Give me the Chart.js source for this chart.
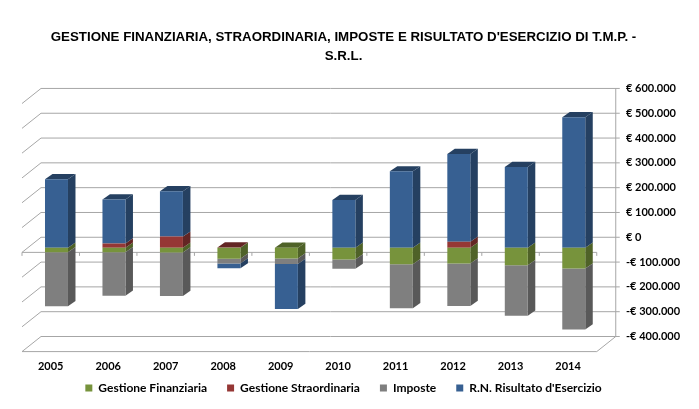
<!DOCTYPE html>
<html>
<head>
<meta charset="utf-8">
<style>
    body { margin: 0; background: #fff; }
    canvas { display: block; }
</style>
<script src="https://cdn.jsdelivr.net/npm/chart.js@4/dist/chart.umd.js"></script>
</head>
<body>
<canvas id="chart" width="699" height="409"></canvas>
<script>
const years = ['2005', '2006', '2007', '2008', '2009', '2010', '2011', '2012', '2013', '2014'];
const gestioneFinanziaria = [-18000, -18000, -19000, -44000, -43000, -47000, -66000, -63000, -70000, -84000];
const gestioneStraordinaria = [0, 17000, 45000, 1000, 0, 0, 0, 24000, 0, 0];
const imposte = [-218000, -175000, -175000, -19000, -22000, -38000, -178000, -172000, -204000, -245000];
const risultato = [276000, 178000, 183000, -20000, -182000, 193000, 308000, 354000, 326000, 526000];

const frontColors = ['#77933c', '#953735', '#7f7f7f', '#376092'];
const sideColors = ['#4f6228', '#632523', '#595959', '#254061'];

const gridColor = '#a6a6a6';
const barDepth = { x: 7.5, y: -5.2 };
const backWall = { x: 13.25, y: -10.5 };
const frontEdge = { x: -5.75, y: 4.6 };

function line(ctx, x1, y1, x2, y2) {
    ctx.beginPath();
    ctx.moveTo(x1, y1);
    ctx.lineTo(x2, y2);
    ctx.stroke();
}

function face(ctx, color, x1, y1, x2, y2) {
    // parallelogram going back from the edge (x1,y1)-(x2,y2)
    ctx.fillStyle = color;
    ctx.beginPath();
    ctx.moveTo(x1, y1);
    ctx.lineTo(x2, y2);
    ctx.lineTo(x2 + barDepth.x, y2 + barDepth.y);
    ctx.lineTo(x1 + barDepth.x, y1 + barDepth.y);
    ctx.closePath();
    ctx.fill();
}

const walls = {
    id: 'walls',
    afterLayout(chart) {
        // tick labels get clipped to the scale box, let it reach the canvas edge
        chart.scales.y.right = chart.width;
        chart.scales.x.bottom = chart.height;
    },
    beforeDatasetsDraw(chart) {
        const ctx = chart.ctx;
        const area = chart.chartArea;
        const yScale = chart.scales.y;
        const backLeft = area.left + backWall.x;
        const backRight = area.right + backWall.x;
        const frontLeft = area.left + frontEdge.x;
        const frontRight = area.right + frontEdge.x;
        const depthX = backWall.x - frontEdge.x;
        const depthY = frontEdge.y - backWall.y;

        ctx.save();
        ctx.strokeStyle = gridColor;
        ctx.lineWidth = 1;

        yScale.ticks.forEach(tick => {
            const y = yScale.getPixelForValue(tick.value) + backWall.y;
            line(ctx, backLeft, y, backRight + 4, y);
            line(ctx, backLeft, y, backLeft - depthX, y + depthY);
        });

        const top = yScale.getPixelForValue(yScale.max) + backWall.y;
        const bottom = yScale.getPixelForValue(yScale.min) + backWall.y;
        line(ctx, backRight, top, backRight, bottom);
        line(ctx, backRight, bottom, frontRight, bottom + depthY);
        line(ctx, frontLeft, bottom + depthY, frontRight, bottom + depthY);

        // zero line on the front edge, with the category ticks
        const zero = yScale.getPixelForValue(0) + frontEdge.y;
        line(ctx, frontLeft, zero, frontRight, zero);
        const slot = (area.right - area.left) / years.length;
        for (let i = 0; i <= years.length; i++) {
            const x = frontLeft + i * slot;
            line(ctx, x, zero, x, zero + 3.5);
        }

        // sides and tops of the bars
        chart.data.datasets.forEach((dataset, d) => {
            chart.getDatasetMeta(d).data.forEach(bar => {
                const right = bar.x + bar.width / 2;
                face(ctx, sideColors[d], right, bar.y, right, bar.base);
            });
        });
        years.forEach((year, i) => {
            let top = null;
            chart.data.datasets.forEach((dataset, d) => {
                const bar = chart.getDatasetMeta(d).data[i];
                const upper = Math.min(bar.y, bar.base);
                if (top === null || upper <= top.y) {
                    top = { y: upper, color: sideColors[d], bar: bar };
                }
            });
            const half = top.bar.width / 2;
            face(ctx, top.color, top.bar.x - half, top.y, top.bar.x + half, top.y);
        });
        ctx.restore();
    }
};

function euro(value) {
    const text = Math.abs(value).toLocaleString('it-IT', { useGrouping: 'always' }).replace(/,/g, '.');
    return (value < 0 ? '-€ ' : '€ ') + text;
}

new Chart(document.getElementById('chart'), {
    type: 'bar',
    data: {
        labels: years,
        datasets: [
            { label: 'Gestione Finanziaria', data: gestioneFinanziaria, backgroundColor: frontColors[0] },
            { label: 'Gestione Straordinaria', data: gestioneStraordinaria, backgroundColor: frontColors[1] },
            { label: 'Imposte', data: imposte, backgroundColor: frontColors[2] },
            { label: "R.N. Risultato d'Esercizio", data: risultato, backgroundColor: frontColors[3] }
        ]
    },
    plugins: [walls],
    options: {
        responsive: false,
        animation: false,
        barPercentage: 0.4,
        categoryPercentage: 1,
        layout: { padding: { left: 27.75, right: 39.75, top: 0, bottom: 5 } },
        plugins: {
            title: {
                display: true,
                text: ["GESTIONE FINANZIARIA, STRAORDINARIA, IMPOSTE E RISULTATO D'ESERCIZIO DI T.M.P. -", 'S.R.L.'],
                color: '#000',
                font: { family: 'Liberation Sans', size: 13.3, weight: 'bold', lineHeight: 1.4 },
                padding: { top: 28, bottom: 33.7 }
            },
            legend: {
                position: 'bottom',
                labels: {
                    color: '#000',
                    boxWidth: 7,
                    boxHeight: 7,
                    padding: 20,
                    font: { family: 'Lato', size: 12, weight: 'bold' }
                }
            },
            tooltip: { enabled: false }
        },
        scales: {
            x: {
                stacked: true,
                afterFit(scale) { scale.height = 15; },
                grid: { display: false },
                border: { display: false },
                ticks: {
                    color: '#000',
                    padding: 5,
                    labelOffset: -5.75,
                    maxRotation: 0,
                    font: { family: 'Lato', size: 11, weight: 'bold' }
                }
            },
            y: {
                stacked: true,
                position: 'right',
                min: -400000,
                max: 600000,
                afterFit(scale) { scale.width = 56.75; },
                grid: { display: false, drawTicks: false },
                border: { display: false },
                ticks: {
                    stepSize: 100000,
                    color: '#000',
                    padding: 23.5,
                    labelOffset: -10.5,
                    callback: euro,
                    font: { family: 'Lato', size: 11, weight: 'bold' }
                }
            }
        }
    }
});
</script>
</body>
</html>
